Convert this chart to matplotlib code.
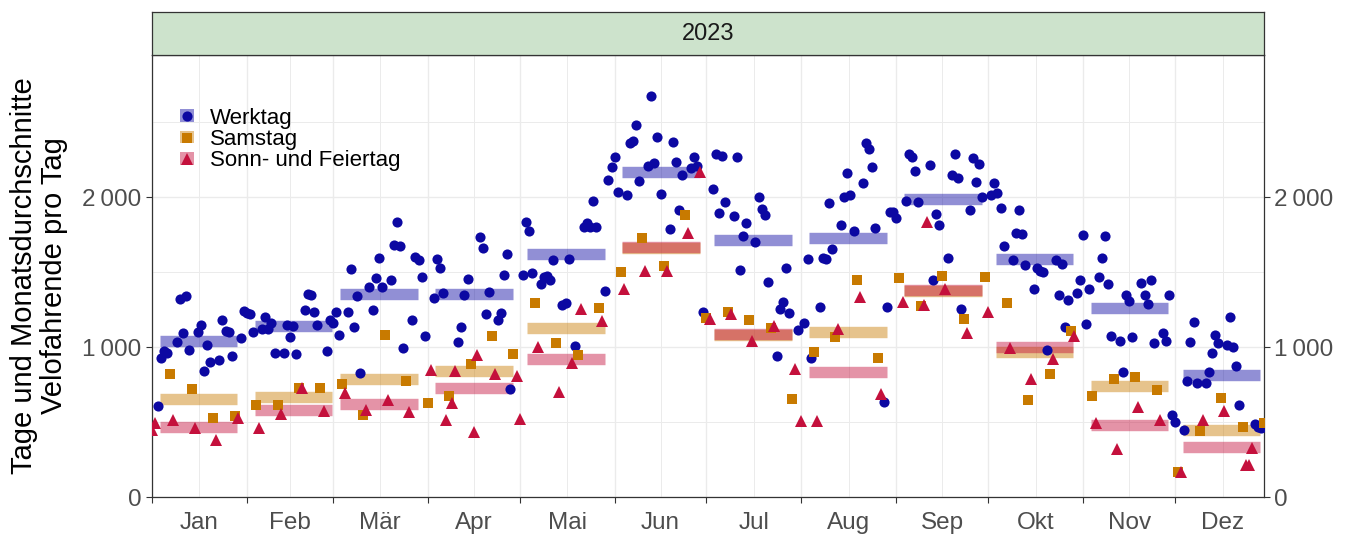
import numpy as np
import pandas as pd
import matplotlib
matplotlib.use('Agg')
import matplotlib.pyplot as plt
from matplotlib.lines import Line2D
from matplotlib.patches import Patch

plt.rcParams['font.family'] = ['Liberation Sans', 'DejaVu Sans']

# Velofahrende pro Tag 2023, eine Liste pro Monat (Daten enden am 30.12.)
jan = [447, 491, 607, 924, 975, 958, 820, 513, 1033, 1318, 1095, 1340, 980, 718, 458, 1098,
       1147, 838, 1013, 902, 524, 380, 913, 1180, 1107, 1102, 942, 542, 524, 1062, 1242]
feb = [1224, 1220, 1102, 613, 462, 1118, 1202, 1118, 1158, 958, 613, 553, 958, 1147, 1067,
       1140, 953, 724, 724, 1247, 1351, 1346, 1235, 1147, 724, 573, 973, 1180]
mar = [1158, 1236, 1080, 753, 691, 1236, 1518, 1136, 1340, 824, 544, 580, 1398, 1247, 1458,
       1591, 1402, 1078, 647, 1447, 1680, 1831, 1673, 995, 773, 569, 1180, 1602, 1580, 1469, 1073]
apr = [624, 846, 1329, 1586, 1529, 1362, 513, 673, 624, 842, 1035, 1135, 1346, 1453, 886,
       435, 944, 1731, 1657, 1217, 1369, 1073, 820, 1180, 1224, 1480, 1620, 720, 951, 806]
mai = [517, 1480, 1831, 1775, 1491, 1291, 997, 1420, 1469, 1473, 1446, 1580, 1024, 702, 1280,
       1291, 1586, 895, 1009, 946, 1253, 1797, 1824, 1802, 1975, 1797, 1257, 1171, 1375, 2113, 2202]
jun = [2269, 2035, 1497, 1386, 2013, 2357, 2373, 2480, 2106, 1724, 1506, 2209, 2675, 2224, 2402,
       2020, 1537, 1506, 1786, 2364, 2235, 1913, 2144, 1877, 1762, 2191, 2264, 2206, 2164, 1231]
jul = [1191, 1184, 2051, 2284, 1895, 2275, 1964, 1231, 1220, 1875, 2264, 1513, 1742, 1829, 1180,
       1040, 1702, 2002, 1917, 1880, 1431, 1129, 1140, 942, 1251, 1297, 1524, 1224, 653, 853, 1113]
aug = [506, 1158, 1586, 924, 964, 509, 1269, 1591, 1584, 1958, 1653, 1064, 1118, 1813, 2002,
       2162, 2013, 1773, 1447, 1335, 2095, 2362, 2318, 2202, 1795, 924, 686, 631, 1264, 1898, 1902]
sep = [1858, 1458, 1302, 1975, 2286, 2269, 2173, 1969, 1275, 1280, 1835, 2213, 1447, 1886, 1813,
       1473, 1384, 1591, 2146, 2286, 2129, 1255, 1184, 1095, 1913, 2258, 2098, 2220, 1998, 1466]
okt = [1235, 2013, 2095, 2029, 1929, 1675, 1291, 991, 1580, 1757, 1913, 1753, 1546, 646, 786,
       1386, 1524, 1509, 1497, 980, 820, 920, 1580, 1346, 1553, 1135, 1313, 1107, 1073, 1358, 1447]
nov = [1746, 1151, 1384, 673, 491, 1469, 1591, 1740, 1420, 1075, 784, 317, 1040, 833, 1346,
       1309, 1069, 797, 602, 1429, 1344, 1284, 1447, 1024, 713, 513, 1091, 1040, 1346, 547]
dez = [502, 164, 169, 447, 775, 1031, 1169, 762, 442, 513, 762, 831, 958, 1078, 1024, 658,
       575, 1013, 1202, 1002, 875, 613, 464, 213, 213, 324, 487, 470, 458, 491]

# Feiertage (als Sonn- und Feiertag markiert)
holidays = ['2023-01-02', '2023-04-07', '2023-04-10', '2023-04-17', '2023-05-01',
            '2023-05-18', '2023-06-29', '2023-08-01', '2023-09-11', '2023-12-25', '2023-12-26']

month_labels = ['Jan', 'Feb', 'Mär', 'Apr', 'Mai', 'Jun', 'Jul', 'Aug', 'Sep', 'Okt', 'Nov', 'Dez']
type_labels = ['Werktag', 'Samstag', 'Sonn- und Feiertag']
colors = ['#0C08A2', '#C87A00', '#C4103C']
markers = ['o', 's', '^']
msizes = [7.3, 7.6, 9.0]

# build the daily table
values = jan + feb + mar + apr + mai + jun + jul + aug + sep + okt + nov + dez
dates = pd.date_range('2023-01-01', periods=len(values), freq='D')
df = pd.DataFrame({'date': dates, 'value': values})
df['day'] = df['date'].dt.dayofyear - 1
df['month'] = df['date'].dt.month
hol = pd.to_datetime(holidays)
df['typ'] = 0
df.loc[df['date'].dt.weekday == 5, 'typ'] = 1
df.loc[(df['date'].dt.weekday == 6) | df['date'].isin(hol), 'typ'] = 2

# monthly means per day type
means = df.groupby(['month', 'typ'])['value'].mean()
months = pd.date_range('2023-01-01', '2023-12-01', freq='MS')
month_start = months.dayofyear.values - 1
month_mid = month_start + months.days_in_month.values / 2.0

fig = plt.figure(figsize=(13.57, 5.39), dpi=100)
ax = fig.add_axes([152 / 1357, 1 - 497 / 539, 1112 / 1357, 442 / 539])

# monthly average bars
for t in range(3):
    for m in range(12):
        mv = means[(m + 1, t)]
        ax.plot([month_start[m] + 2.5, month_start[m] + 27.8], [mv, mv], color=colors[t],
                alpha=0.45, lw=8.2, solid_capstyle='butt', zorder=2)

# daily points
for t in range(3):
    sub = df[df['typ'] == t]
    ax.plot(sub['day'], sub['value'], linestyle='none', marker=markers[t], ms=msizes[t],
            color=colors[t], mew=0, zorder=3)

ax.set_xlim(0, df['day'].max())
ax.set_ylim(0, 2947)

ax.set_xticks(month_start)
ax.set_xticklabels([])
ax.set_xticks(month_mid, minor=True)
ax.set_xticklabels(month_labels, minor=True)
ax.set_yticks([0, 1000, 2000])
ax.set_yticklabels(['0', '1\u2009000', '2\u2009000'])
ax.set_yticks([500, 1500, 2500], minor=True)

ax.tick_params(which='major', direction='out', length=4, width=0.8, color='#333333',
               labelcolor='#4D4D4D', labelsize=17.5, pad=3.5)
ax.tick_params(which='minor', length=0, labelcolor='#4D4D4D', labelsize=17.5, pad=10.5)
ax.tick_params(axis='y', which='both', left=True, right=True, labelleft=True, labelright=True)
ax.tick_params(axis='y', which='minor', length=0)

ax.grid(which='major', color='#EBEBEB', lw=1.0)
ax.grid(which='minor', color='#EBEBEB', lw=0.7)
ax.set_axisbelow(True)
for s in ax.spines.values():
    s.set_color('#333333')
    s.set_linewidth(0.9)

# legend: point over a translucent key
handles = [(Patch(facecolor=colors[t], alpha=0.45, edgecolor='none'),
            Line2D([], [], linestyle='none', marker=markers[t], ms=msizes[t], color=colors[t], mew=0))
           for t in range(3)]
ax.legend(handles, type_labels, loc='upper left', bbox_to_anchor=(0.025, 0.881), frameon=False,
          fontsize=16, handlelength=0.65, handleheight=0.5, handletextpad=0.7,
          labelspacing=0.02, borderpad=0, borderaxespad=0)

# facet strip
strip = fig.add_axes([152 / 1357, 1 - 55 / 539, 1112 / 1357, 43 / 539])
strip.set_facecolor('#CDE3CC')
strip.set_xticks([])
strip.set_yticks([])
for s in strip.spines.values():
    s.set_color('#333333')
    s.set_linewidth(0.9)
strip.text(0.5, 0.5, '2023', ha='center', va='center', fontsize=17, color='#1A1A1A',
           transform=strip.transAxes)

fig.text(39 / 1357, 1 - 276 / 539, 'Tage und Monatsdurchschnitte\nVelofahrende pro Tag',
         rotation=90, ha='center', va='center', multialignment='center', fontsize=21,
         color='black', linespacing=1.1)

fig.savefig('out.png', dpi=100)
